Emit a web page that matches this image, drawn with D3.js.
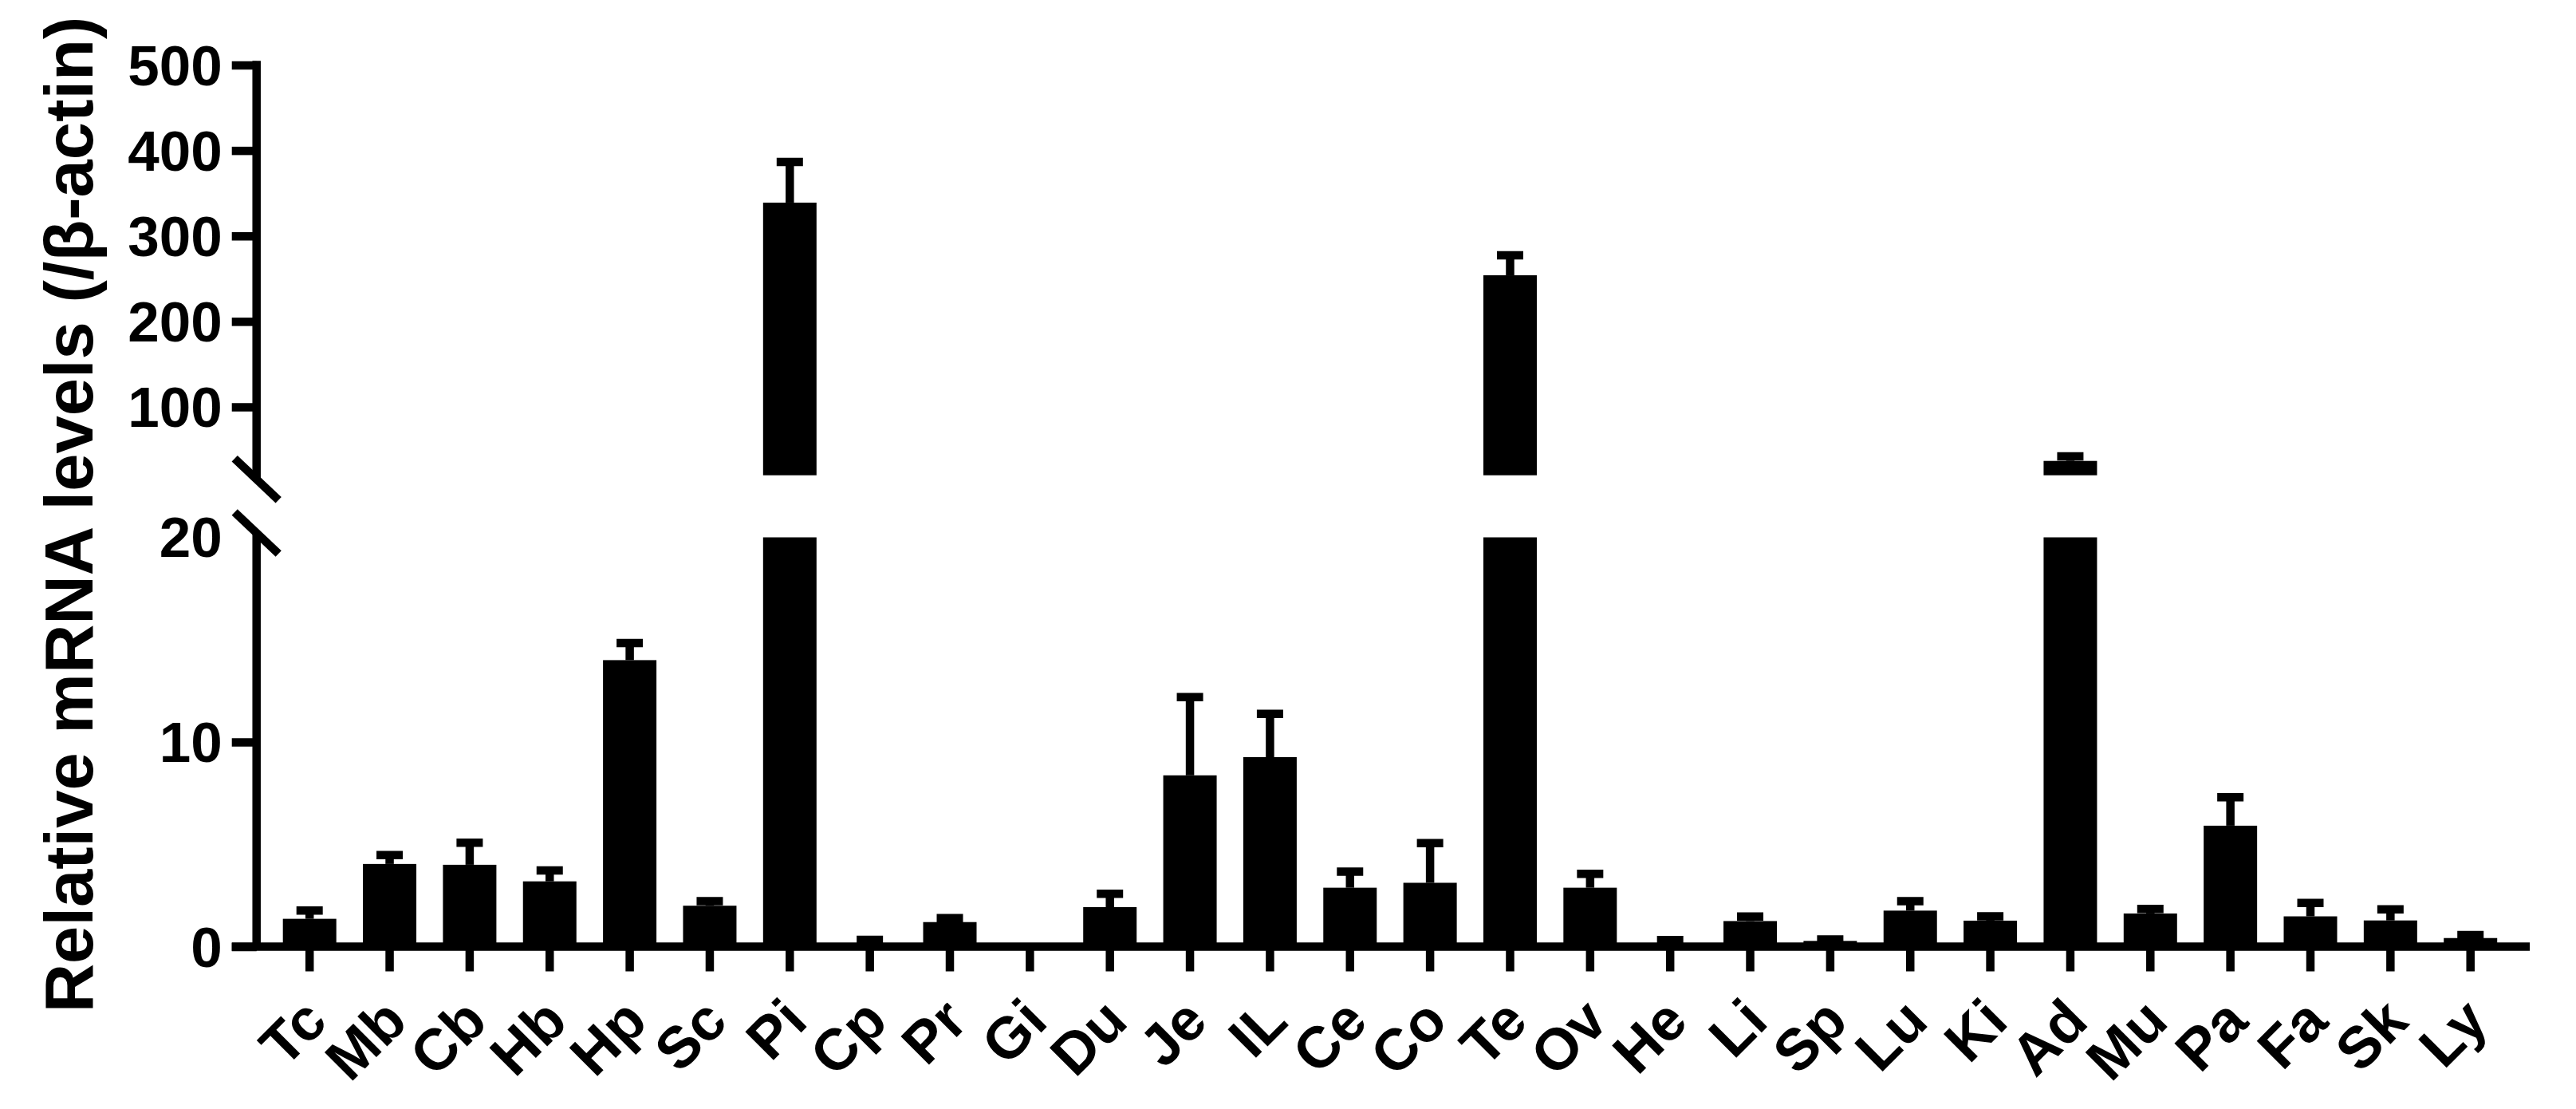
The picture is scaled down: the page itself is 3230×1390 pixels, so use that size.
<!DOCTYPE html>
<html>
<head>
<meta charset="utf-8">
<script src="https://cdn.jsdelivr.net/npm/d3@7"></script>
<style>
  html, body { margin: 0; padding: 0; background: #fff; }
  svg text { font-family: "Liberation Sans", Arial, sans-serif; font-weight: bold; fill: #000; }
</style>
</head>
<body>
<svg id="chart" width="3230" height="1390"></svg>
<script>
// ---- data ----
const categories = ["Tc","Mb","Cb","Hb","Hp","Sc","Pi","Cp","Pr","Gi","Du","Je","IL","Ce","Co","Te","Ov","He","Li","Sp","Lu","Ki","Ad","Mu","Pa","Fa","Sk","Ly"];
const means = [1.36, 4.04, 4.0, 3.19, 14.0, 2.0, 339, 0.1, 1.2, 0, 1.93, 8.37, 9.26, 2.88, 3.12, 254, 2.88, 0.05, 1.25, 0.28, 1.76, 1.27, 36.8, 1.62, 5.91, 1.48, 1.28, 0.42];
const errors = [0.40, 0.43, 1.08, 0.53, 0.83, 0.22, 47.6, 0.23, 0.19, 0, 0.65, 3.82, 2.11, 0.78, 1.94, 23.4, 0.68, 0.27, 0.22, 0.07, 0.46, 0.21, 5.3, 0.22, 1.39, 0.65, 0.54, 0.15];
const upperTicks = [100, 200, 300, 400, 500];
const lowerTicks = [0, 10];
const lowerLabelOnly = [20];
const yTitle = "Relative mRNA levels (/β-actin)";

// ---- layout ----
const svg = d3.select("#chart");
const axisX = 321.7;
const lw = 10.5;
const breakVal = 20;
const yLow = d3.scaleLinear().domain([0, 20]).range([1186.5, 673.5]);
const yHigh = d3.scaleLinear().domain([20, 500]).range([595.7, 81.5]);
const x = d3.scalePoint().domain(categories).range([388.2, 3097.7]);
const barW = 67, capW = 33, tickLen = 31;
const fontTick = 71;
const fontX = 73;

const data = categories.map((c, i) => ({ c, m: means[i], e: errors[i] }));

// bars
const gBars = svg.append("g");
data.forEach(d => {
  const cx = x(d.c);
  if (d.m <= breakVal) {
    gBars.append("rect").attr("x", cx - barW / 2).attr("width", barW)
      .attr("y", yLow(d.m)).attr("height", yLow(0) - yLow(d.m)).attr("fill", "#000");
  } else {
    gBars.append("rect").attr("x", cx - barW / 2).attr("width", barW)
      .attr("y", yLow(breakVal)).attr("height", yLow(0) - yLow(breakVal)).attr("fill", "#000");
    gBars.append("rect").attr("x", cx - barW / 2).attr("width", barW)
      .attr("y", yHigh(d.m)).attr("height", yHigh(breakVal) - yHigh(d.m)).attr("fill", "#000");
  }
  if (d.e <= 0) return;
  // error bar (upper only)
  const top = d.m + d.e;
  const ys = top > breakVal ? yHigh : yLow;
  const yBar = top > breakVal ? (d.m > breakVal ? yHigh(d.m) : yHigh(breakVal)) : yLow(d.m);
  const yCap = ys(top);
  gBars.append("line").attr("x1", cx).attr("x2", cx).attr("y1", yBar).attr("y2", yCap)
    .attr("stroke", "#000").attr("stroke-width", lw);
  gBars.append("line").attr("x1", cx - capW / 2).attr("x2", cx + capW / 2).attr("y1", yCap).attr("y2", yCap)
    .attr("stroke", "#000").attr("stroke-width", lw);
});

// y axes
const gAx = svg.append("g");
gAx.append("line").attr("x1", axisX).attr("x2", axisX)
  .attr("y1", yHigh(500) - lw / 2).attr("y2", yHigh(breakVal) + 5)
  .attr("stroke", "#000").attr("stroke-width", lw);
gAx.append("line").attr("x1", axisX).attr("x2", axisX)
  .attr("y1", yLow(breakVal) - 5.5).attr("y2", yLow(0))
  .attr("stroke", "#000").attr("stroke-width", lw);

const upperAxis = d3.axisLeft(yHigh).tickValues(upperTicks).tickSize(tickLen).tickSizeOuter(0).tickPadding(12);
const ga1 = svg.append("g").attr("transform", `translate(${axisX},0)`).call(upperAxis);
const lowerAxis = d3.axisLeft(yLow).tickValues(lowerTicks).tickSize(tickLen).tickSizeOuter(0).tickPadding(12);
const ga2 = svg.append("g").attr("transform", `translate(${axisX},0)`).call(lowerAxis);
[ga1, ga2].forEach(g => {
  g.select(".domain").remove();
  g.selectAll(".tick line").attr("stroke", "#000").attr("stroke-width", lw);
  g.selectAll(".tick text").attr("font-size", fontTick).attr("dy", "0.35em");
  g.attr("font-family", null).attr("font-size", null);
});
svg.append("g").selectAll("text").data(lowerLabelOnly).join("text")
  .attr("x", axisX - tickLen - 12).attr("y", d => yLow(d)).attr("dy", "0.35em")
  .attr("text-anchor", "end").attr("font-size", fontTick).text(d => d);

// break slashes
[yHigh(breakVal) + 5, yLow(breakVal) - 5.5].forEach(cy => {
  svg.append("line").attr("x1", axisX - 27.5).attr("y1", cy - 26).attr("x2", axisX + 27.5).attr("y2", cy + 26)
    .attr("stroke", "#000").attr("stroke-width", lw);
});

// x axis
svg.append("line").attr("x1", axisX - tickLen).attr("x2", 3172).attr("y1", yLow(0)).attr("y2", yLow(0))
  .attr("stroke", "#000").attr("stroke-width", lw);
const gx = svg.append("g");
gx.selectAll("line").data(categories).join("line")
  .attr("x1", d => x(d)).attr("x2", d => x(d))
  .attr("y1", yLow(0)).attr("y2", yLow(0) + tickLen)
  .attr("stroke", "#000").attr("stroke-width", lw);
gx.selectAll("text").data(categories).join("text")
  .attr("transform", d => `translate(${x(d) + 25},${yLow(0) + 97}) rotate(-45)`)
  .attr("text-anchor", "end").attr("font-size", fontX).text(d => d);

// y title
svg.append("text").attr("transform", "translate(116,645) rotate(-90)")
  .attr("text-anchor", "middle").attr("font-size", 85).text(yTitle);
</script>
</body>
</html>
